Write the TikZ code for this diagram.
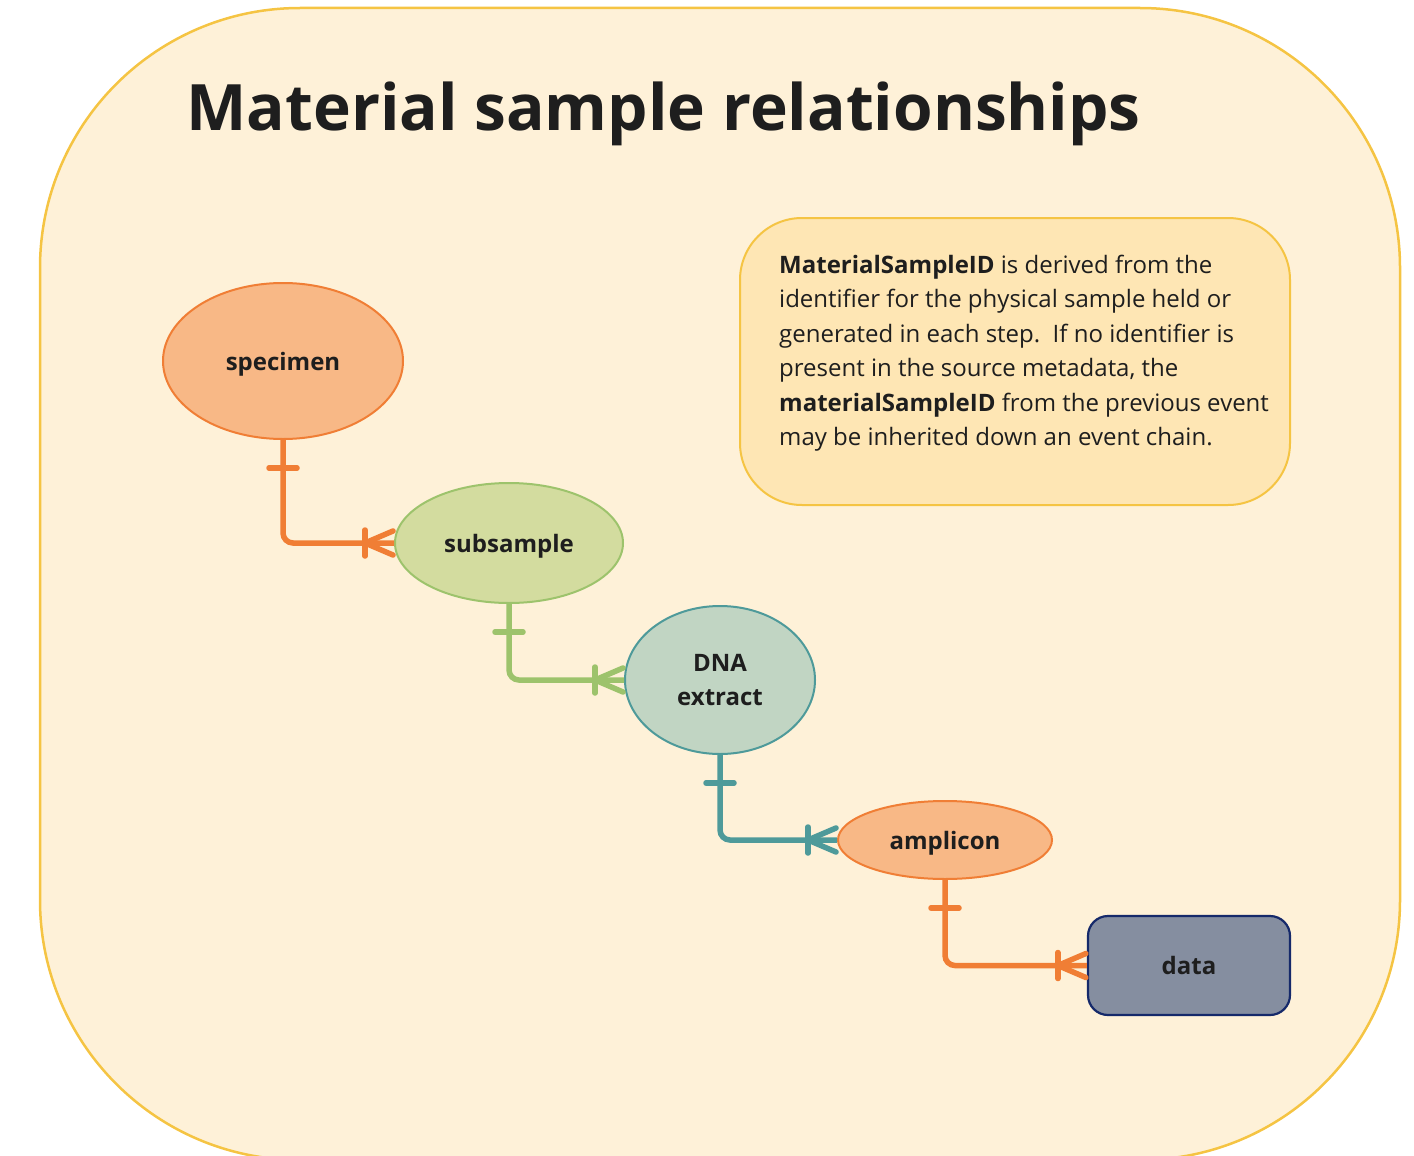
\documentclass[tikz,border=0pt]{standalone}
\usepackage{fontspec}
\setmainfont{Open Sans}
\usetikzlibrary{shapes.geometric,calc}
\definecolor{bgfill}{HTML}{FEF1D8}
\definecolor{bgdraw}{HTML}{F5C443}
\definecolor{infofill}{HTML}{FEE6B4}
\definecolor{orfill}{HTML}{F8B886}
\definecolor{ordraw}{HTML}{F07E35}
\definecolor{grfill}{HTML}{D3DC9F}
\definecolor{grdraw}{HTML}{9DC36C}
\definecolor{tlfill}{HTML}{C1D5C3}
\definecolor{tldraw}{HTML}{4E9A9A}
\definecolor{dtfill}{HTML}{858EA0}
\definecolor{dtdraw}{HTML}{15296A}
\definecolor{ink}{HTML}{1E1E1E}
\tikzset{
  ent/.style={ellipse, inner sep=0pt, line width=2pt, text=ink, text depth=0pt,
    font=\fontsize{24}{34}\selectfont\bfseries, align=center},
  conn/.style={line width=5.5pt, rounded corners=10pt},
  tickmark/.style={line width=5.5pt, line cap=round},
}
\begin{document}
\begin{tikzpicture}[x=1pt,y=-1pt]
\useasboundingbox (0,0) rectangle (1414,1156);
\begin{scope}
\clip (0,0) rectangle (1414,1156);
\draw[fill=bgfill, draw=bgdraw, line width=2.5pt, rounded corners=260pt] (40,8) rectangle (1400,1160);
\end{scope}

\node[anchor=west, text=ink, font=\fontsize{64}{76}\selectfont\bfseries] (title) at (183,114) {Material sample relationships};

\node[draw=bgdraw, fill=infofill, line width=2pt, rounded corners=62pt, minimum width=550pt, minimum height=287pt] (infobox) at (1015,361.5) {};
\node[anchor=north west, inner sep=0pt, text=ink, align=left, font=\fontsize{24}{34.4}\selectfont] (info) at (779,255)
{\textbf{MaterialSampleID} is derived from the\\
identifier for the physical sample held or\\
generated in each step.\ \ If no identifier is\\
present in the source metadata, the\\
\textbf{materialSampleID} from the previous event\\
may be inherited down an event chain.};

\node[ent, fill=orfill, draw=ordraw, minimum width=240pt, minimum height=156pt] (spec) at (283,361) {specimen};
\node[ent, fill=grfill, draw=grdraw, minimum width=228pt, minimum height=120pt] (sub) at (509,543) {subsample};
\node[ent, fill=tlfill, draw=tldraw, minimum width=190pt, minimum height=148pt] (dna) at (720,680) {DNA\\extract};
\node[ent, fill=orfill, draw=ordraw, minimum width=214pt, minimum height=78pt] (amp) at (945,840) {amplicon};
\node[draw=dtdraw, fill=dtfill, line width=2.2pt, rounded corners=20pt, minimum width=202pt, minimum height=99pt, text=ink, font=\fontsize{24}{34}\selectfont\bfseries] (data) at (1189,965.5) {data};

% connectors
\foreach \a/\b/\c in {spec/sub/ordraw, sub/dna/grdraw, dna/amp/tldraw, amp/data/ordraw}{
  \draw[conn, draw=\c] (\a.south) |- (\b.west);
  \draw[tickmark, draw=\c] ($(\a.south)+(-14,28)$) -- ($(\a.south)+(14,28)$);
  \draw[tickmark, draw=\c] ($(\b.west)+(-29,-13)$) -- ($(\b.west)+(-29,13)$);
  \draw[tickmark, draw=\c] ($(\b.west)+(-1,-12)$) -- ($(\b.west)+(-29,0)$) -- ($(\b.west)+(-1,12)$);
}
\end{tikzpicture}
\end{document}
